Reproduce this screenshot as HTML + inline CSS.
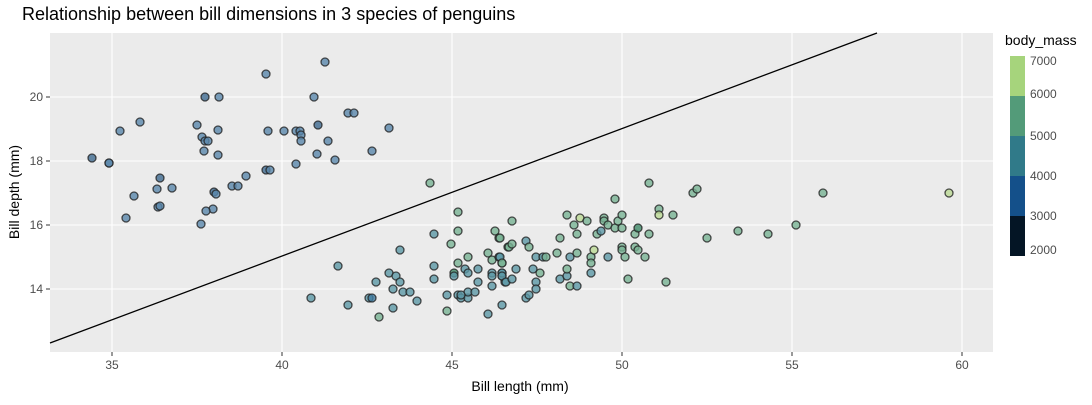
<!DOCTYPE html>
<html><head><meta charset="utf-8"><style>
body{margin:0;background:#fff;font-family:"Liberation Sans",sans-serif;}
</style></head><body>
<svg width="1092" height="400" xmlns="http://www.w3.org/2000/svg" font-family="Liberation Sans, sans-serif">
<text x="22" y="20" font-size="18" fill="#000">Relationship between bill dimensions in 3 species of penguins</text>
<rect x="50" y="33" width="943" height="319" fill="#ebebeb"/>
<g stroke="#fff" stroke-width="1.1">
<line x1="112" y1="33" x2="112" y2="352"/><line x1="282" y1="33" x2="282" y2="352"/><line x1="452" y1="33" x2="452" y2="352"/><line x1="622" y1="33" x2="622" y2="352"/><line x1="792" y1="33" x2="792" y2="352"/><line x1="962" y1="33" x2="962" y2="352"/>
<line x1="50" y1="289" x2="993" y2="289"/><line x1="50" y1="225" x2="993" y2="225"/><line x1="50" y1="161" x2="993" y2="161"/><line x1="50" y1="97" x2="993" y2="97"/>
</g>
<g font-size="12" fill="#4d4d4d" text-anchor="middle">
<text x="112" y="369">35</text><text x="282" y="369">40</text><text x="452" y="369">45</text><text x="622" y="369">50</text><text x="792" y="369">55</text><text x="962" y="369">60</text>
</g>
<g font-size="12" fill="#4d4d4d" text-anchor="end">
<text x="43" y="293">14</text><text x="43" y="229">16</text><text x="43" y="165">18</text><text x="43" y="101">20</text>
</g>
<g stroke="#333" stroke-width="1">
<line x1="46" y1="289" x2="50" y2="289"/><line x1="46" y1="225" x2="50" y2="225"/><line x1="46" y1="161" x2="50" y2="161"/><line x1="46" y1="97" x2="50" y2="97"/>
<line x1="112" y1="352" x2="112" y2="356"/><line x1="282" y1="352" x2="282" y2="356"/><line x1="452" y1="352" x2="452" y2="356"/><line x1="622" y1="352" x2="622" y2="356"/><line x1="792" y1="352" x2="792" y2="356"/><line x1="962" y1="352" x2="962" y2="356"/>
</g>
<text x="520" y="391" font-size="14" text-anchor="middle">Bill length (mm)</text>
<text transform="translate(19,192) rotate(-90)" font-size="14" text-anchor="middle">Bill depth (mm)</text>
<line x1="50" y1="343" x2="877" y2="33" stroke="#000" stroke-width="1.3"/>
<g id="pts" stroke="#222" stroke-width="1.3" stroke-opacity="0.8"></g>
<text x="1005" y="45" font-size="14">body_mass</text>
<rect x="1010" y="56" width="15" height="40" fill="#a6d47c"/>
<rect x="1010" y="96" width="15" height="40" fill="#539b79"/>
<rect x="1010" y="136" width="15" height="40" fill="#307a89"/>
<rect x="1010" y="176" width="15" height="40" fill="#14508a"/>
<rect x="1010" y="216" width="15" height="40" fill="#041525"/>
<g font-size="12" fill="#4d4d4d">
<text x="1030" y="65">7000</text><text x="1030" y="98">6000</text><text x="1030" y="140">5000</text><text x="1030" y="180">4000</text><text x="1030" y="220">3000</text><text x="1030" y="254">2000</text>
</g>
</svg>
<script>
var A=[[92,158],[109,163],[109,163],[120,131],[134,196],[126,218],[140,122],[157,189],[158,207],[160,178],[197,125],[201,224],[202,137],[204,151],[205,141],[208,141],[218,130],[218,155],[214,192],[213,209],[216,194],[206,211],[232,186],[238,186],[246,176],[266,74],[268,131],[266,170],[270,170],[284,131],[296,131],[296,164],[300,131],[301,135],[301,141],[314,97],[318,125],[317,154],[325,62],[328,141],[335,160],[348,113],[354,113],[372,151],[389,128],[205,97],[219,97],[172,188],[160,206]];
// [x,y,colorType] t: 0 teal, 1 green, 2 light, 3 blue, 4 dark green
var G=[[430,183,1],[458,212,1],[434,234,0],[458,231,1],[400,250,0],[451,244,1],[495,231,1],[499,238,1],[508,247,1],[338,266,0],[434,266,0],[488,253,1],[468,257,1],[492,260,1],[499,257,0],[502,263,1],[458,263,1],[389,273,0],[396,276,0],[376,282,0],[400,282,0],[434,279,0],[454,273,4],[454,276,0],[465,269,0],[468,273,0],[478,269,0],[492,273,0],[492,276,0],[502,273,0],[502,276,0],[478,282,0],[492,286,0],[505,282,0],[393,289,0],[403,292,0],[410,292,0],[417,301,0],[311,298,0],[348,305,0],[369,298,0],[372,298,3],[393,308,0],[379,317,1],[447,295,0],[458,295,0],[461,298,0],[468,298,0],[468,292,0],[475,292,0],[447,311,1],[488,314,0],[502,305,0],[461,295,0],
[512,221,1],[500,238,1],[509,247,1],[512,244,1],[526,241,0],[529,247,1],[500,257,0],[502,263,1],[502,273,0],[502,276,0],[506,282,0],[512,279,0],[516,269,0],[536,257,0],[543,257,0],[546,257,1],[533,269,0],[540,273,1],[536,282,0],[536,289,0],[526,298,0],[529,295,0],[557,253,1],[560,238,1],[567,215,1],[574,225,1],[580,218,2],[587,221,1],[577,234,1],[570,257,0],[577,253,1],[560,279,0],[567,276,0],[567,269,1],[570,286,1],[577,286,0],[591,257,1],[591,263,1],[591,273,0],[594,250,2],[597,234,1],[601,231,0],[604,218,1],[604,221,1],[608,225,1],[615,199,1],[615,228,1],[618,221,1],[622,215,1],[622,228,1],[608,257,0],[622,247,1],[622,250,1],[625,257,1],[628,279,1],[635,234,1],[638,228,4],[635,247,1],[638,250,1],[645,257,1],[649,234,1],[649,183,1],[659,209,1],[659,215,2],[673,215,1],[666,282,1],[693,193,1],[697,189,1],[707,238,1],[738,231,1],[768,234,1],[796,225,1],[823,193,1],[949,193,2]];
var cols=['#5c99a6','#78b394','#bcd995','#3f7aa0','#3f8a68'];
var g=document.getElementById('pts'),s='';
A.forEach(function(p,i){var c=(i%9==0)?'#3f6a90':'#5a87ab';s+='<circle cx="'+p[0]+'" cy="'+p[1]+'" r="4" fill="'+c+'" fill-opacity="0.8"/>';});
G.forEach(function(p){s+='<circle cx="'+p[0]+'" cy="'+p[1]+'" r="4" fill="'+cols[p[2]]+'" fill-opacity="0.8"/>';});
g.innerHTML=s;
</script>
</body></html>
